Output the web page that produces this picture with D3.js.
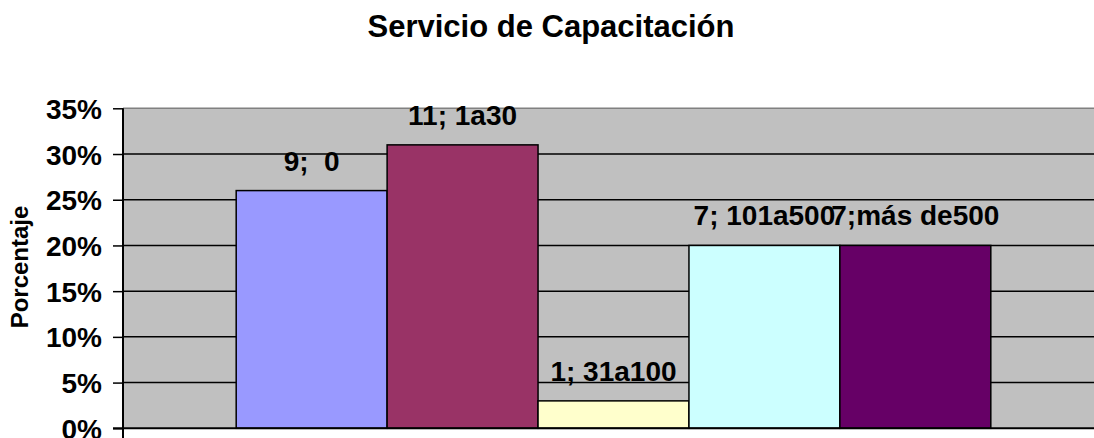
<!DOCTYPE html>
<html>
<head>
<meta charset="utf-8">
<script src="https://cdn.jsdelivr.net/npm/d3@7"></script>
<style>
  html, body { margin: 0; padding: 0; background: #ffffff; }
  svg { display: block; font-family: "Liberation Sans", Arial, sans-serif; }
</style>
</head>
<body>
<svg id="chart" width="1094" height="438"></svg>
<script>
// Training-service survey: share of respondents per group
const categories = ["0", "1a30", "31a100", "101a500", "más de500"];
const counts = [9, 11, 1, 7, 7];
const percents = [26, 31, 3, 20, 20];
const barLabels = ["9;  0", "11; 1a30", "1; 31a100", "7; 101a500", "7;más de500"];
const barColors = ["#9999FF", "#993366", "#FFFFCC", "#CCFFFF", "#660066"];
const yTicks = [0, 5, 10, 15, 20, 25, 30, 35];

const svg = d3.select("#chart");
const plot = { left: 123, right: 1104, top: 108.3, bottom: 428.3 };

const x = d3.scaleBand()
  .domain(categories)
  .range([plot.left, plot.right])
  .paddingInner(0)
  .paddingOuter(0.75);

const y = d3.scaleLinear()
  .domain([0, 35])
  .range([plot.bottom, plot.top]);

// Plot area background
svg.append("rect")
  .attr("x", plot.left)
  .attr("y", plot.top)
  .attr("width", plot.right - plot.left)
  .attr("height", plot.bottom - plot.top)
  .attr("fill", "#C0C0C0");

// Top border of the plot area
svg.append("line")
  .attr("x1", plot.left).attr("x2", plot.right)
  .attr("y1", plot.top).attr("y2", plot.top)
  .attr("stroke", "#808080").attr("stroke-width", 1.5);

// Horizontal gridlines
svg.append("g")
  .selectAll("line")
  .data(yTicks.filter(d => d > 0 && d < 35))
  .join("line")
  .attr("x1", plot.left).attr("x2", plot.right)
  .attr("y1", d => y(d)).attr("y2", d => y(d))
  .attr("stroke", "#000").attr("stroke-width", 1.5);

// Bars
svg.append("g")
  .selectAll("rect")
  .data(categories)
  .join("rect")
  .attr("x", d => x(d))
  .attr("y", (d, i) => y(percents[i]))
  .attr("width", x.bandwidth())
  .attr("height", (d, i) => y(0) - y(percents[i]))
  .attr("fill", (d, i) => barColors[i])
  .attr("stroke", "#000")
  .attr("stroke-width", 1.5);

// Y axis
const yAxis = d3.axisLeft(y)
  .tickValues(yTicks)
  .tickFormat(d => d + "%")
  .tickSize(10)
  .tickPadding(11);

const gy = svg.append("g")
  .attr("transform", `translate(${plot.left},0)`)
  .call(yAxis);
gy.select(".domain").remove();
gy.selectAll(".tick line").attr("stroke", "#000").attr("stroke-width", 1.5);
gy.selectAll(".tick text")
  .attr("fill", "#000")
  .style("font-size", "28px")
  .style("font-weight", "bold")
  .attr("dy", "0.36em");

// Axis lines
svg.append("line")
  .attr("x1", plot.left).attr("x2", plot.left)
  .attr("y1", plot.top).attr("y2", 438)
  .attr("stroke", "#000").attr("stroke-width", 2);
svg.append("line")
  .attr("x1", plot.left - 10).attr("x2", plot.right)
  .attr("y1", plot.bottom).attr("y2", plot.bottom)
  .attr("stroke", "#000").attr("stroke-width", 2);

// Value labels
svg.append("g")
  .selectAll("text")
  .data(categories)
  .join("text")
  .attr("x", d => x(d) + x.bandwidth() / 2)
  .attr("y", (d, i) => y(percents[i]) - 20)
  .attr("text-anchor", "middle")
  .style("white-space", "pre")
  .style("font-size", "28px")
  .style("font-weight", "bold")
  .attr("fill", "#000")
  .text((d, i) => barLabels[i]);

// Axis title
svg.append("text")
  .attr("transform", `translate(28,267) rotate(-90)`)
  .attr("text-anchor", "middle")
  .style("font-size", "24px")
  .style("font-weight", "bold")
  .attr("fill", "#000")
  .text("Porcentaje");

// Chart title
svg.append("text")
  .attr("x", 551)
  .attr("y", 37)
  .attr("text-anchor", "middle")
  .style("font-size", "31px")
  .style("font-weight", "bold")
  .attr("fill", "#000")
  .text("Servicio de Capacitación");
</script>
</body>
</html>
